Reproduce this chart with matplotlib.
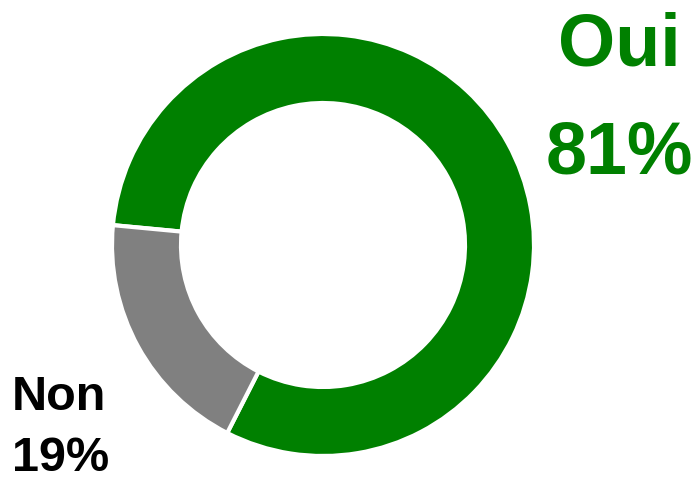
import matplotlib
matplotlib.use('Agg')
import matplotlib.pyplot as plt

labels = ['Oui', 'Non']
values = [81, 19]
colors = ['#008000', '#808080']
text_colors = ['#008000', '#000000']

plt.rcParams['font.family'] = ['Liberation Sans', 'DejaVu Sans']

fig = plt.figure(figsize=(6.98, 4.82), dpi=100)
ax = fig.add_axes([0, 0, 1, 1])

ax.pie(values, colors=colors, startangle=243, center=(323, 237), radius=211,
       wedgeprops=dict(width=69, edgecolor='white', linewidth=3), frame=True)
ax.set_xlim(0, 698)
ax.set_ylim(0, 482)
ax.set_aspect('equal')
ax.axis('off')

# Oui label, top right
ax.text(619, 416, labels[0], ha='center', va='baseline', fontsize=53,
        fontweight='bold', color=text_colors[0])
ax.text(619, 308, '{}%'.format(values[0]), ha='center', va='baseline', fontsize=53,
        fontweight='bold', color=text_colors[0])
# Non label, bottom left
ax.text(12, 72, labels[1], ha='left', va='baseline', fontsize=35,
        fontweight='bold', color=text_colors[1])
ax.text(12, 11, '{}%'.format(values[1]), ha='left', va='baseline', fontsize=35,
        fontweight='bold', color=text_colors[1])

fig.savefig('out.png')
